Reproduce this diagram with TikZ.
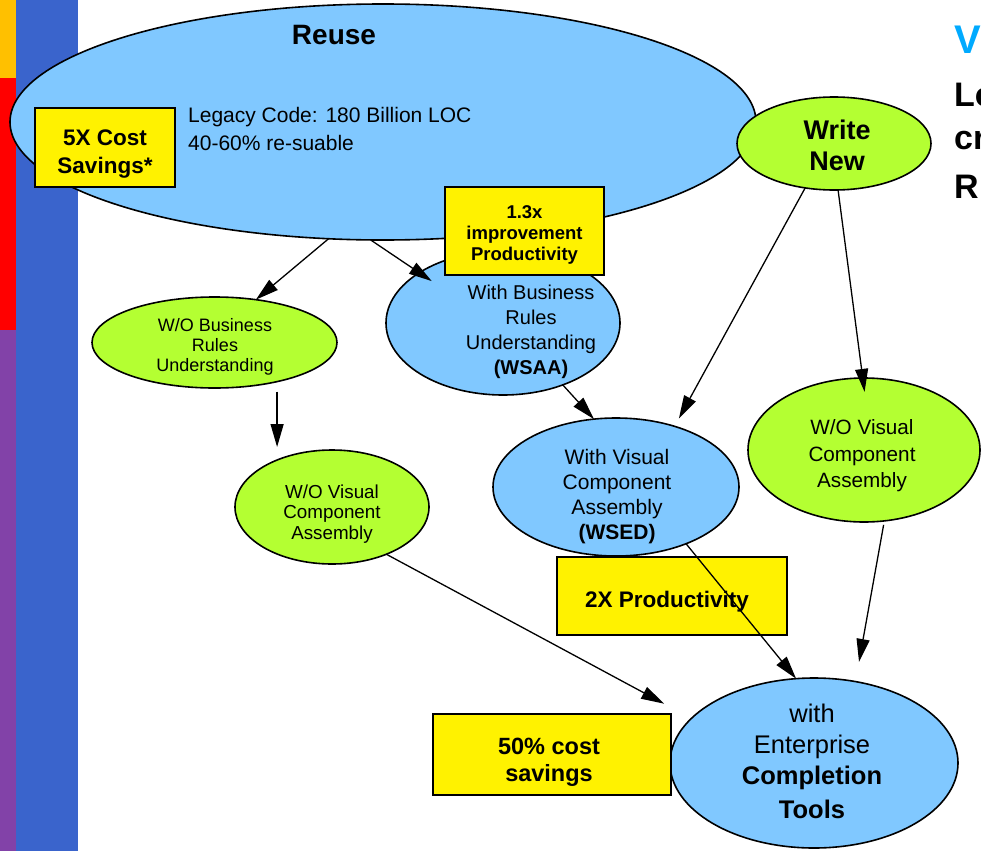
\documentclass[tikz,border=0pt]{standalone}
\usepackage{fontspec}
\setmainfont{Liberation Sans}
\usetikzlibrary{shapes.geometric,arrows.meta,calc}

\definecolor{skyfill}{RGB}{128,200,255}
\definecolor{limefill}{RGB}{180,255,50}
\definecolor{barorange}{RGB}{255,192,0}
\definecolor{barred}{RGB}{255,0,0}
\definecolor{barpurple}{RGB}{130,66,168}
\definecolor{barblue}{RGB}{58,100,204}
\definecolor{headblue}{RGB}{0,170,255}

\newcommand\setfs[2]{\fontsize{#1}{#2}\selectfont}

\begin{document}
\begin{tikzpicture}[x=1pt,y=-1pt,
  blob/.style={ellipse, draw=black, line width=1.6pt, inner sep=0pt, outer sep=0pt},
  skyblob/.style={blob, fill=skyfill},
  limeblob/.style={blob, fill=limefill},
  note/.style={draw=black, fill=yellow, line width=1.6pt, inner sep=0pt},
  txt/.style={align=center, inner sep=0pt},
  link/.style={-{Triangle[length=23pt,width=13pt]}, line width=1.3pt},
]
\useasboundingbox (0,0) rectangle (981,851);

% side bars
\fill[barorange] (0,0) rectangle (16,78);
\fill[barred] (0,78) rectangle (16,330);
\fill[barpurple] (0,330) rectangle (16,851);
\fill[barblue] (16,0) rectangle (78,851);

% reuse branch
\node[skyblob, minimum width=746pt, minimum height=236pt] (reuse) at (383,122) {};
\node[txt, font=\setfs{28}{32}\bfseries] (reusetxt) at (334,35) {Reuse};
\node[txt, anchor=west, align=left, font=\setfs{21}{28}] (legacy) at (188,129)
  {Legacy Code: 180 Billion LOC\\40-60\% re-suable};
\node[note, minimum width=140pt, minimum height=79pt] (fivex) at (105,147.5) {};
\node[txt, font=\setfs{22.5}{28}\bfseries] (fivextxt) at (105,154) {5X Cost\\Savings*};

% write new
\node[limeblob, minimum width=194pt, minimum height=93pt] (writenew) at (834,143.5) {};
\node[txt, font=\setfs{27}{31}\bfseries] (writetxt) at (837,145) {Write\\New};

% business rules
\node[skyblob, minimum width=234pt, minimum height=144pt] (wsaa) at (503,323) {};
\node[txt, font=\setfs{20}{25}] (wsaatxt) at (531,332)
  {With Business\\Rules\\Understanding\\\textbf{(WSAA)}};
\node[note, minimum width=159pt, minimum height=88pt] (onethree) at (524.5,231) {};
\node[txt, font=\setfs{18.5}{21}\bfseries] (onethreetxt) at (524.5,235)
  {1.3x\\improvement\\Productivity};

\node[limeblob, minimum width=245pt, minimum height=91pt] (wobr) at (214.5,342.5) {};
\node[txt, font=\setfs{18}{20}] (wobrtxt) at (215,347)
  {W/O Business\\Rules\\Understanding};

% visual component assembly
\node[limeblob, minimum width=194pt, minimum height=114pt] (wova) at (332,507) {};
\node[txt, font=\setfs{18.8}{20.5}] (wovatxt) at (332,514)
  {W/O Visual\\Component\\Assembly};

\node[skyblob, minimum width=246pt, minimum height=138pt] (wsed) at (616,487) {};
\node[txt, font=\setfs{21}{25}] (wsedtxt) at (617,497)
  {With Visual\\Component\\Assembly\\\textbf{(WSED)}};

\node[limeblob, minimum width=232pt, minimum height=144pt] (wovb) at (864,450) {};
\node[txt, font=\setfs{20.7}{26.5}] (wovbtxt) at (862,456)
  {W/O Visual\\Component\\Assembly};

% completion tools
\node[skyblob, minimum width=288pt, minimum height=170pt] (ect) at (814,763) {};
\node[txt, font=\setfs{25.5}{31}] (ecttxt) at (812,761)
  {with\\Enterprise\\\textbf{Completion}\\[3pt]\textbf{Tools}};

\node[note, minimum width=230pt, minimum height=78pt] (twox) at (672,596) {};
\node[txt, font=\setfs{22.5}{28}\bfseries] (twoxtxt) at (667,602) {2X Productivity};
\node[note, minimum width=238pt, minimum height=81pt] (fifty) at (552,754.5) {};
\node[txt, font=\setfs{23.5}{27}\bfseries] (fiftytxt) at (549,762) {50\% cost\\savings};

% heading at the right edge
\node[txt, anchor=west, text=headblue, font=\setfs{40}{40}\bfseries] (hv) at (954,40) {V};
\node[txt, anchor=west, font=\setfs{34}{40}\bfseries] (hla) at (954,95) {Lo};
\node[txt, anchor=west, font=\setfs{34}{40}\bfseries] (hlb) at (954,141) {cr};
\node[txt, anchor=west, font=\setfs{34}{40}\bfseries] (hlc) at (954,187) {R};

% connectors
\draw[link] (reuse.-115.6) -- (wobr.46.9);
\draw[link, shorten >=-15pt] (reuse.-96.2) -- (wsaa.149.7);
\draw[link, shorten <=10pt, shorten >=3pt] (wobr.-32) -- (wobr.-32 |- wova.north);
\draw[link] (wsaa.-46.7) -- (wsed.108.9);
\draw[link, shorten >=9pt] (writenew.-123.7) -- (wsed.46.7);
\draw[link, shorten >=-14pt] (writenew.-85.2) -- (wovb.91);
\draw[link, shorten >=31pt] (wova.-41) -- (ect.160.9);
\draw[link] (wsed.-39.2) -- (ect.102.5);
\draw[link, shorten <=4pt, shorten >=20pt] (wovb.-74.4) -- (ect.63);
\end{tikzpicture}
\end{document}
